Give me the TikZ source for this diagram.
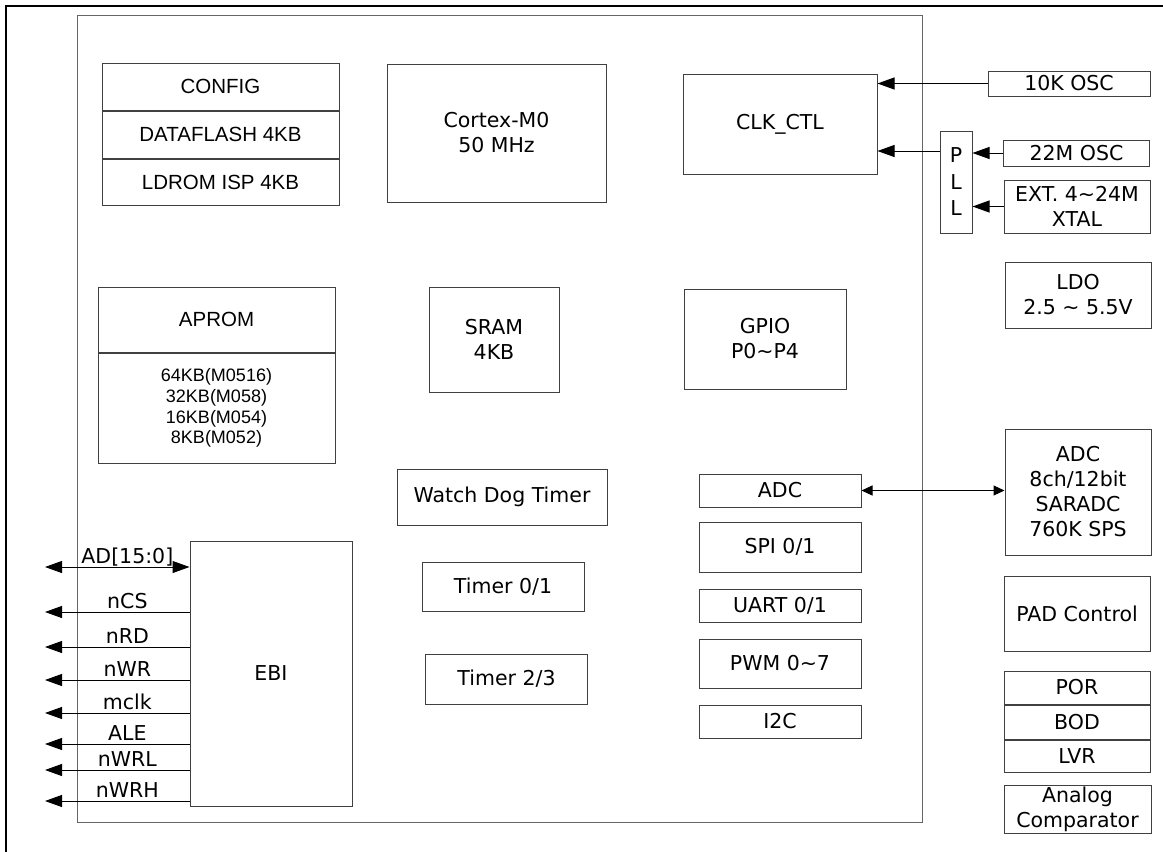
\documentclass[tikz,border=0pt]{standalone}
\usepackage{fontspec}
\setmainfont{DejaVu Sans}
\newfontfamily\arialfont{Liberation Sans}
\usetikzlibrary{positioning,arrows.meta}

\begin{document}
\begin{tikzpicture}[x=1pt, y=-1pt, line width=1pt, font=\fontsize{20.5}{25}\selectfont]
        \tikzstyle{blk}=[draw=black!75, inner sep=0pt, align=center]
        \tikzstyle{io}=[blk, minimum width=162]
        \tikzstyle{side}=[blk, minimum width=146]
        \tikzstyle{sig}=[draw=black, -{Triangle[length=17pt, width=12pt]}]
        \tikzstyle{sigboth}=[draw=black, {Triangle[length=17pt, width=12pt]}-{Triangle[length=17pt, width=12pt]}]
        \tikzstyle{sigsmall}=[draw=black, {Triangle[length=11pt, width=10pt]}-{Triangle[length=11pt, width=10pt]}]
        \tikzstyle{pin}=[anchor=base, yshift=4pt, inner sep=0pt]
        \useasboundingbox (0,0) rectangle (1163,852);
        \draw[line width=2.5pt] (6,852) -- (6,6) -- (1163,6);
        \node [draw=black!60, inner sep=0pt, minimum width=845, minimum height=807] (chip) at (499.5,418.5) {};
        % memories
        \node [blk, minimum width=237, minimum height=47] (cfg) at (220.5,86.5) {\arialfont CONFIG};
        \node [blk, minimum width=237, minimum height=47, below=0pt of cfg] (dflash) {\arialfont DATAFLASH 4KB};
        \node [blk, minimum width=237, minimum height=46, below=0pt of dflash] (ldrom) {\arialfont LDROM ISP 4KB};
        \node [blk, minimum width=237, minimum height=65] (aprom) at (216.5,319.5) {\arialfont APROM};
        \node [blk, minimum width=237, minimum height=110, below=0pt of aprom, font=\arialfont\fontsize{18}{20.7}\selectfont] (apsize) {64KB(M0516)\\32KB(M058)\\16KB(M054)\\8KB(M052)};
        \node [blk, minimum width=219, minimum height=138] (cpu) at (496.5,133) {Cortex-M0\\50 MHz};
        \node [blk, minimum width=130, minimum height=105] (sram) at (494,339.5) {SRAM\\4KB};
        % clocks
        \node [blk, minimum width=194, minimum height=100] (clk) at (780,124) {CLK\_CTL};
        \node [blk, minimum width=162, minimum height=25] (osc10k) at (1069,83.5) {10K OSC};
        \node [blk, minimum width=32, minimum height=102, font=\fontsize{20.5}{26.5}\selectfont] (pll) at (956,182) {P\\L\\L};
        \node [side, minimum height=26] (osc22m) at (1076.5,153) {22M OSC};
        \node [side, minimum height=53] (xtal) at (1077,206.5) {EXT. 4\textasciitilde24M\\XTAL};
        \node [side, minimum height=66] (ldo) at (1078,295) {LDO\\2.5 \textasciitilde{} 5.5V};
        % peripherals
        \node [io, minimum height=100] (gpio) at (765,339) {GPIO\\P0\textasciitilde P4};
        \node [blk, minimum width=210, minimum height=56] (wdt) at (502,497) {Watch Dog Timer};
        \node [io, minimum height=49] (tmra) at (503,586.5) {Timer 0/1};
        \node [io, minimum height=50] (tmrb) at (506.5,679) {Timer 2/3};
        \node [io, minimum height=33] (adc) at (780,490.5) {ADC};
        \node [io, minimum height=50] (spi) at (780,547) {SPI 0/1};
        \node [io, minimum height=33] (uart) at (780,605.5) {UART 0/1};
        \node [io, minimum height=49] (pwm) at (780,663.5) {PWM 0\textasciitilde7};
        \node [io, minimum height=33] (iic) at (780,721.5) {I2C};
        \node [side, minimum height=126] (saradc) at (1078,492) {ADC\\8ch/12bit\\SARADC\\760K SPS};
        \node [side, minimum height=75] (pad) at (1077,613.5) {PAD Control};
        \node [side, minimum height=33] (por) at (1077,687.5) {POR};
        \node [side, minimum height=34, below=0pt of por] (bod) {BOD};
        \node [side, minimum height=32, below=0pt of bod] (lvr) {LVR};
        \node [blk, minimum width=147, minimum height=48] (acmp) at (1077.5,809) {Analog\\Comparator};
        \node [io, minimum height=265] (ebi) at (271,673.5) {EBI};
        % connections
        \draw[sig] (osc10k) -- (osc10k -| clk.east);
        \draw[sig] (osc22m) -- (osc22m -| pll.east);
        \draw[sig] (xtal) -- (xtal -| pll.east);
        \draw[sig] ([yshift=31pt]pll.west) -- ([yshift=31pt]pll.west -| clk.east);
        \draw[sigsmall] (adc) -- (adc -| saradc.west);
        \coordinate (pAD) at (45,567);
        \draw[sigboth] (pAD) -- (ebi.west |- pAD) node[pin, pos=0.57] {AD[15:0]};
        \foreach \y/\s in {612/nCS, 647/nRD, 680/nWR, 713/mclk, 744/ALE, 770/nWRL, 801/nWRH} {
            \coordinate (p\s) at (45,\y);
            \draw[sig] (ebi.west |- p\s) -- (p\s) node[pin, pos=0.43] {\s};
        }
\end{tikzpicture}
\end{document}
